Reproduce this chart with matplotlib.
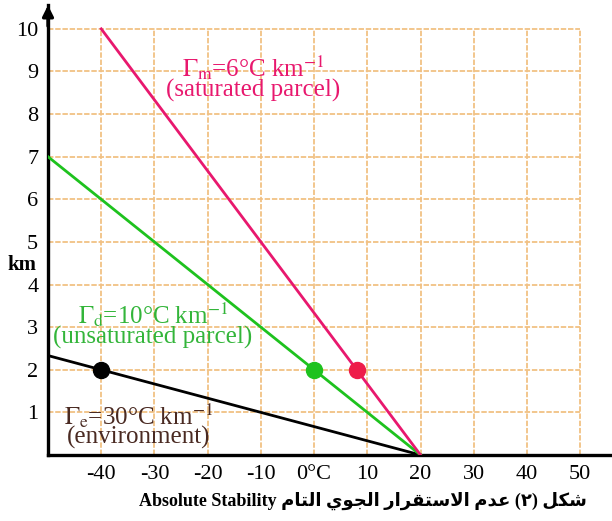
import matplotlib
matplotlib.use("Agg")
import matplotlib.pyplot as plt

plt.rcParams['mathtext.fontset'] = 'stix'
plt.rcParams['font.family'] = ['Liberation Serif', 'DejaVu Sans']

# Lapse rates (°C per km) and the common surface temperature (°C)
surface_temp = 20
lapse_env = 30
lapse_dry = 10
lapse_moist = 6

# Height span drawn for each profile (km)
env_heights = [0, 2.3333]
dry_heights = [0, 7]
moist_heights = [0, 10]

# Parcel markers at 2 km
marker_height = 2

x_ticks = [-40, -30, -20, -10, 0, 10, 20, 30, 40, 50]
x_tick_labels = ['-40', '-30', '-20', '-10', '0°C', '10', '20', '30', '40', '50']
y_ticks = [1, 2, 3, 4, 5, 6, 7, 8, 9, 10]

PINK = '#E8186E'
RED_DOT = '#EE1C4A'
GREEN = '#1EC21E'
GREEN_TXT = '#33B53A'
BROWN = '#4A2A22'
GRID = '#F1C184'


def temp_at(z, lapse):
    return surface_temp - lapse * z


fig = plt.figure(figsize=(6.12, 5.21), dpi=100)
ax = fig.add_axes([48 / 612, 66 / 521, 562 / 612, 450 / 521])
ax.set_xlim(-50, 55.6)
ax.set_ylim(0, 10.56)

# grid of dashed guide lines
for gx in x_ticks:
    ax.plot([gx, gx], [0, 10], color=GRID, lw=1.3, ls=(0, (3, 1)), zorder=1)
for gy in y_ticks:
    ax.plot([-50, 50], [gy, gy], color=GRID, lw=1.3, ls=(0, (3, 1)), zorder=1)

# profiles
for hs, lapse, col in [(env_heights, lapse_env, 'black'),
                       (dry_heights, lapse_dry, GREEN),
                       (moist_heights, lapse_moist, PINK)]:
    ax.plot([temp_at(h, lapse) for h in hs], hs, color=col, lw=2.0, zorder=3)

for lapse, col in [(lapse_env, 'black'), (lapse_dry, GREEN), (lapse_moist, RED_DOT)]:
    ax.plot(temp_at(marker_height, lapse), marker_height, 'o', color=col,
            ms=11.5, zorder=4)

# labels for the profiles
label_kw = dict(fontsize=18, ha='center', va='center', multialignment='center',
                linespacing=0.82)
ax.text(-11.5, 8.86, r'$\Gamma_{\rm m}$=6°C km$^{-1}$' + '\n(saturated parcel)',
        color=PINK, **label_kw)
ax.text(-30.3, 3.06, r'$\Gamma_{\rm d}$=10°C km$^{-1}$' + '\n(unsaturated parcel)',
        color=GREEN_TXT, **label_kw)
ax.text(-33.0, 0.70, r'$\Gamma_{\rm e}$=30°C km$^{-1}$' + '\n(environment)',
        color=BROWN, **label_kw)

# axes styling
for s in ['top', 'right']:
    ax.spines[s].set_visible(False)
for s in ['left', 'bottom']:
    ax.spines[s].set_linewidth(2.4)
    ax.spines[s].set_color('black')
ax.spines['left'].set_position(('data', -50))
ax.set_xticks(x_ticks)
ax.set_xticklabels(x_tick_labels)
ax.set_yticks(y_ticks)
ax.tick_params(length=0, labelsize=16, pad=7)
ax.annotate('', xy=(-50, 10.62), xytext=(-50, 10.0),
            arrowprops=dict(arrowstyle='-|>', color='black', lw=2.4,
                            mutation_scale=16),
            annotation_clip=False)

fig.text(22 / 612, 1 - 265 / 521, 'km', fontsize=15, fontweight='bold',
         ha='center', va='center')

# caption: Arabic written in presentation forms, visual order
arabic_caption = ('\uFEE1\uFE8E\uFE98\uFEDF\uFE8D '
                  '\uFEF1\uFEEE\uFEA0\uFEDF\uFE8D '
                  '\uFEAD\uFE8D\uFEAE\uFED8\uFE98\uFEB3\uFEFB\uFE8D '
                  '\uFEE1\uFEAA\uFECB '
                  '(\u0662) '
                  '\uFEDE\uFEDC\uFEB7')
fig.text(363 / 612, 1 - 501 / 521, 'Absolute Stability ' + arabic_caption,
         fontsize=13, fontweight='bold', ha='center', va='center')

fig.savefig('out.png', dpi=100)
